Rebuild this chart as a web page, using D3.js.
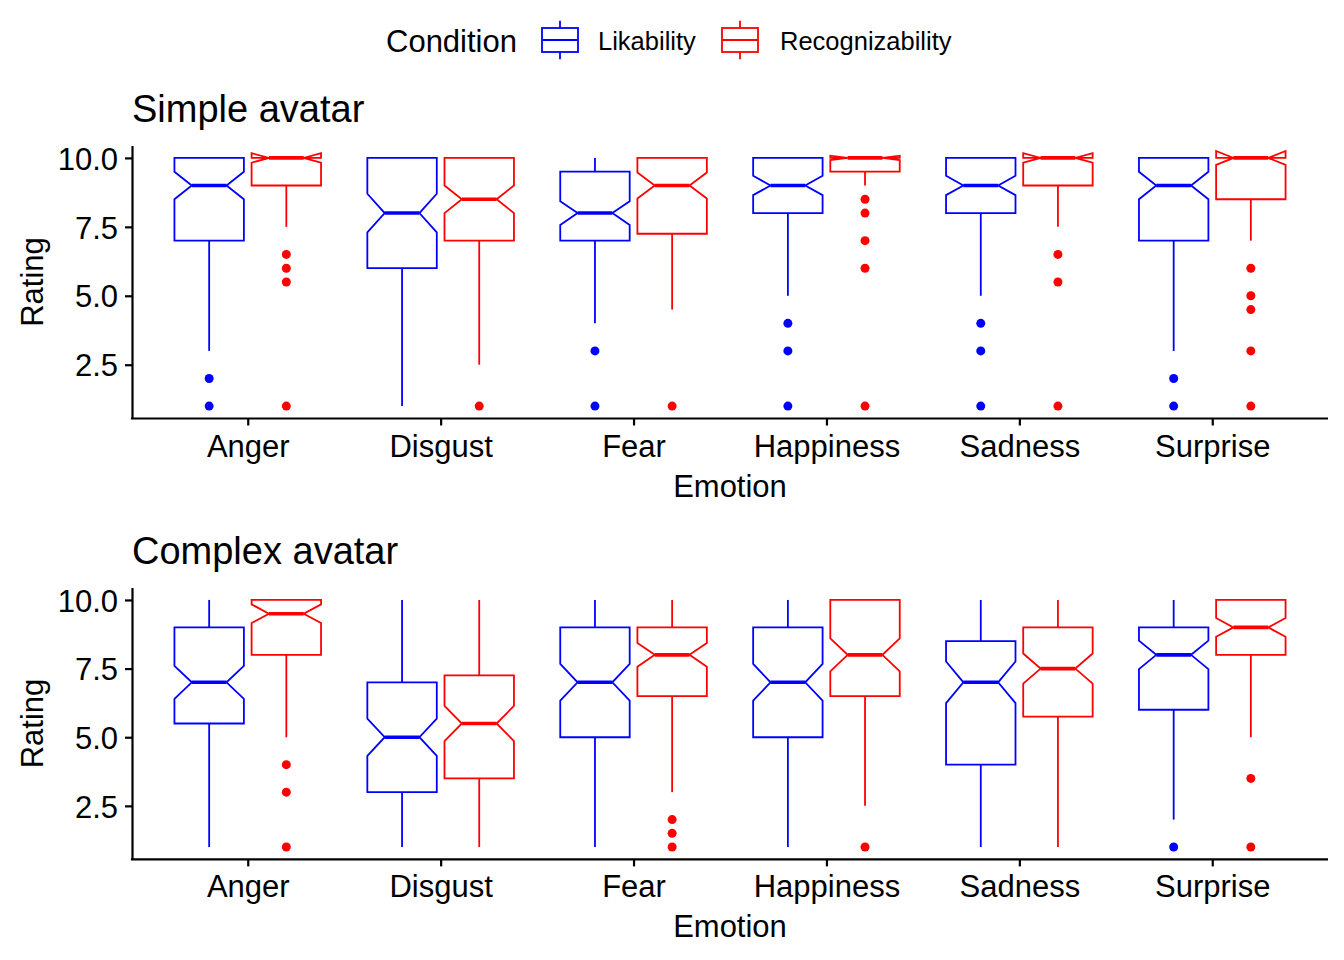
<!DOCTYPE html>
<html>
<head>
<meta charset="utf-8">
<script src="https://cdn.jsdelivr.net/npm/d3@7"></script>
<style>
  html, body { margin: 0; padding: 0; background: #fff; }
  svg { display: block; font-family: "Liberation Sans", Arial, sans-serif; }
</style>
</head>
<body>
<svg id="chart" width="1344" height="960"></svg>
<script>
// ---------------- DATA ----------------
const emotions = ["Anger", "Disgust", "Fear", "Happiness", "Sadness", "Surprise"];
const conditions = ["Likability", "Recognizability"];
const yTicks = [2.5, 5.0, 7.5, 10.0];
const panelTitles = ["Simple avatar", "Complex avatar"];

// [lower whisker, Q1, median, Q3, upper whisker] per emotion
const simpleLikStats = [[3, 7, 9, 10, 10], [1, 6, 8, 10, 10], [4, 7, 8, 9.5, 10], [5, 8, 9, 10, 10], [5, 8, 9, 10, 10], [3, 7, 9, 10, 10]];
const simpleLikNotch = [0.5, 0.7, 0.43, 0.35, 0.35, 0.5];
const simpleLikOutliers = [[2, 1], [], [3, 1], [4, 3, 1], [4, 3, 1], [2, 1]];

const simpleRecStats = [[7.5, 9, 10, 10, 10], [2.5, 7, 8.5, 10, 10], [4.5, 7.25, 9, 10, 10], [9, 9.5, 10, 10, 10], [7.5, 9, 10, 10, 10], [7, 8.5, 10, 10, 10]];
const simpleRecNotch = [0.17, 0.5, 0.47, 0.08, 0.17, 0.25];
const simpleRecOutliers = [[6.5, 6, 5.5, 1], [1], [1], [8.5, 8, 7, 6, 1], [6.5, 5.5, 1], [6, 5, 4.5, 3, 1]];

const complexLikStats = [[1, 5.5, 7, 9, 10], [1, 3, 5, 7, 10], [1, 5, 7, 9, 10], [1, 5, 7, 9, 10], [1, 4, 7, 8.5, 10], [2, 6, 8, 9, 10]];
const complexLikNotch = [0.6, 0.68, 0.67, 0.67, 0.76, 0.52];
const complexLikOutliers = [[], [], [], [], [], [1]];

const complexRecStats = [[5, 8, 9.5, 10, 10], [1, 3.5, 5.5, 7.25, 10], [3, 6.5, 8, 9, 10], [2.5, 6.5, 8, 10, 10], [1, 5.75, 7.5, 9, 10], [5, 8, 9, 10, 10]];
const complexRecNotch = [0.34, 0.64, 0.43, 0.6, 0.55, 0.34];
const complexRecOutliers = [[4, 3, 1], [], [2, 1.5, 1], [1], [], [3.5, 1]];

const colors = { Likability: "#0000FF", Recognizability: "#FF0000" };

// ---------------- LAYOUT ----------------
const svg = d3.select("#chart");
const FONT = 31;
const xLeft = 132, xRight = 1328;
const LW = 1.8;

const panels = [
  { title: panelTitles[0], top: 145.5, bottom: 418.5, titleY: 122,
    data: { Likability: [simpleLikStats, simpleLikNotch, simpleLikOutliers],
            Recognizability: [simpleRecStats, simpleRecNotch, simpleRecOutliers] } },
  { title: panelTitles[1], top: 587.6, bottom: 859.4, titleY: 564,
    data: { Likability: [complexLikStats, complexLikNotch, complexLikOutliers],
            Recognizability: [complexRecStats, complexRecNotch, complexRecOutliers] } }
];

const x = d3.scalePoint().domain(emotions).range([xLeft, xRight]).padding(0.6);
const step = x.step();
const dodge = d3.scaleBand().domain(conditions)
  .range([-0.4 * step, 0.4 * step]).paddingInner(0.1).paddingOuter(0.05);
const bw = dodge.bandwidth();

// ---------------- LEGEND ----------------
const legend = svg.append("g");
legend.append("text").attr("x", 386).attr("y", 51.5)
  .attr("font-size", FONT).attr("fill", "#000").text("Condition");

const legendItems = [
  { cond: "Likability", cx: 560, tx: 598 },
  { cond: "Recognizability", cx: 740, tx: 780 }
];
legendItems.forEach(it => {
  const g = legend.append("g").attr("stroke", colors[it.cond]).attr("fill", "none").attr("stroke-width", LW);
  const ks = 48, cy = 40;
  const x0 = it.cx - ks * 0.375, x1 = it.cx + ks * 0.375;
  g.append("line").attr("x1", it.cx).attr("x2", it.cx).attr("y1", cy - ks * 0.4).attr("y2", cy - ks * 0.25);
  g.append("line").attr("x1", it.cx).attr("x2", it.cx).attr("y1", cy + ks * 0.25).attr("y2", cy + ks * 0.4);
  g.append("rect").attr("x", x0).attr("y", cy - ks * 0.25).attr("width", x1 - x0).attr("height", ks * 0.5).attr("fill", "#fff");
  g.append("line").attr("x1", x0).attr("x2", x1).attr("y1", cy).attr("y2", cy);
  legend.append("text").attr("x", it.tx).attr("y", 49.5)
    .attr("font-size", 25.5).attr("fill", "#000").text(it.cond);
});

// ---------------- PANELS ----------------
panels.forEach(p => {
  const y = d3.scaleLinear().domain([0.55, 10.45]).range([p.bottom, p.top]);
  const g = svg.append("g");

  // title
  g.append("text").attr("x", 132).attr("y", p.titleY)
    .attr("font-size", 38).attr("fill", "#000").text(p.title);

  // boxes
  conditions.forEach(cond => {
    const [stats, notch, outs] = p.data[cond];
    const col = colors[cond];
    emotions.forEach((em, i) => {
      const [lw, q1, med, q3, uw] = stats[i];
      const nh = notch[i];
      const cx = x(em) + dodge(cond) + bw / 2;
      const xmin = cx - bw / 2, xmax = cx + bw / 2;
      const indent = 0.25 * bw;
      const bg = g.append("g");
      // whiskers
      bg.append("line").attr("x1", cx).attr("x2", cx).attr("y1", y(q3)).attr("y2", y(uw))
        .attr("stroke", col).attr("stroke-width", LW);
      bg.append("line").attr("x1", cx).attr("x2", cx).attr("y1", y(q1)).attr("y2", y(lw))
        .attr("stroke", col).attr("stroke-width", LW);
      // notched box (ggplot polygon order)
      const nu = med + nh, nl = med - nh;
      const pts = [
        [xmin, y(q3)], [xmin, y(nu)], [xmin + indent, y(med)], [xmin, y(nl)], [xmin, y(q1)],
        [xmax, y(q1)], [xmax, y(nl)], [xmax - indent, y(med)], [xmax, y(nu)], [xmax, y(q3)]
      ];
      bg.append("polygon").attr("points", pts.map(d => d.join(",")).join(" "))
        .attr("fill", "#fff").attr("stroke", col).attr("stroke-width", LW).attr("stroke-linejoin", "miter");
      // median
      bg.append("line").attr("x1", xmin + indent).attr("x2", xmax - indent)
        .attr("y1", y(med)).attr("y2", y(med))
        .attr("stroke", col).attr("stroke-width", 3.6);
      // outliers
      bg.selectAll("circle").data(outs[i]).join("circle")
        .attr("cx", cx).attr("cy", d => y(d)).attr("r", 4.5).attr("fill", col);
    });
  });

  // axes
  const yAxis = d3.axisLeft(y).tickValues(yTicks).tickFormat(d3.format(".1f"))
    .tickSize(7).tickSizeOuter(0).tickPadding(7);
  const ya = g.append("g").attr("transform", `translate(${xLeft},0)`).call(yAxis);
  const xAxis = d3.axisBottom(x).tickSize(7).tickSizeOuter(0).tickPadding(9);
  const xa = g.append("g").attr("transform", `translate(0,${p.bottom})`).call(xAxis);
  [ya, xa].forEach(a => {
    a.select(".domain").attr("stroke", "#000").attr("stroke-width", 2.2);
    a.selectAll(".tick line").attr("stroke", "#000").attr("stroke-width", 2.2);
    a.selectAll(".tick text").attr("fill", "#000").attr("font-size", FONT)
      .attr("font-family", "'Liberation Sans', Arial, sans-serif");
  });
  ya.selectAll(".tick text").attr("dy", "0.36em");
  xa.select(".domain").attr("d", `M${xLeft - 1.1},0H${xRight}`);

  // axis titles
  g.append("text").attr("x", (xLeft + xRight) / 2).attr("y", p.bottom + 78)
    .attr("text-anchor", "middle").attr("font-size", FONT).attr("fill", "#000").text("Emotion");
  g.append("text")
    .attr("transform", `translate(43,${(p.top + p.bottom) / 2}) rotate(-90)`)
    .attr("text-anchor", "middle").attr("font-size", FONT).attr("fill", "#000").text("Rating");
});
</script>
</body>
</html>
